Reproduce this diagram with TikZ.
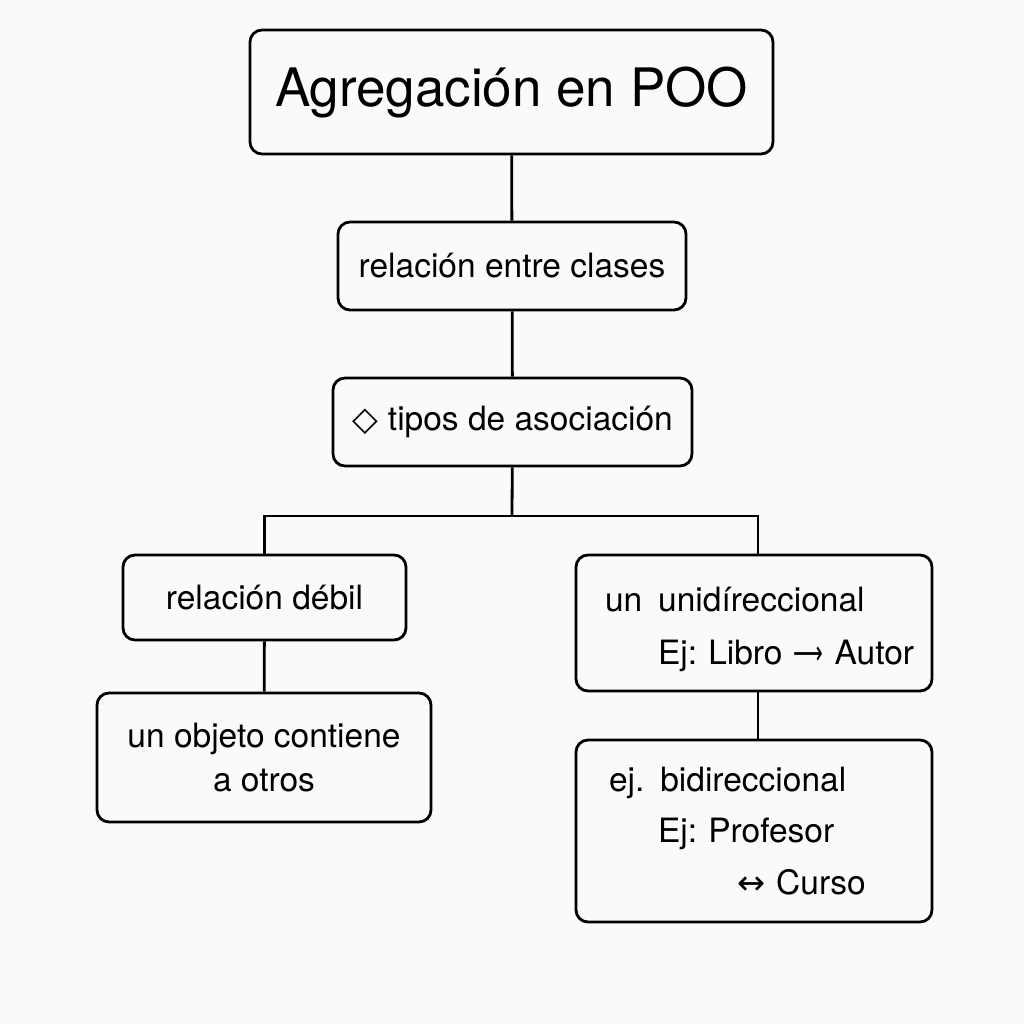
\documentclass[tikz,border=0pt]{standalone}
\usepackage{fontspec}
\setmainfont{TeX Gyre Heros}
\newfontfamily\symb{DejaVu Sans}
\usetikzlibrary{positioning}
\definecolor{bg}{RGB}{250,250,250}
\frenchspacing

\begin{document}
\begin{tikzpicture}[
    x=1pt, y=-1pt,
    every node/.style={font=\fontsize{33.5}{44}\selectfont},
    box/.style={
        rectangle,
        rounded corners=12pt,
        draw=black,
        fill=bg,
        align=center,
        inner sep=0pt,
        line width=2.8pt
    },
    link/.style={
        line width=2.8pt,
        color=black
    }
]
\fill[bg] (0,0) rectangle (1024,1024);

% ==================== TOP ====================
\node[box, minimum width=523pt, minimum height=124pt, font=\fontsize{53}{60}\selectfont] (title) at (511.5,92) {\raisebox{-5pt}{Agregación en POO}};
\node[box, minimum width=348pt, minimum height=88pt] (relacion) at (512,266) {relación entre clases};
\node[box, minimum width=359pt, minimum height=88pt] (tipos) at (512.5,422) {{\symb ◇}\hspace{10pt}tipos de asociación};

\draw[link] (title) -- (relacion);
\draw[link] (relacion) -- (tipos);

% ==================== LEFT BRANCH ====================
\node[box, minimum width=283pt, minimum height=85pt] (debil) at (264.5,597.5) {relación débil};
\node[box, minimum width=334pt, minimum height=129pt] (objeto) at (264,757.5) {un objeto contiene\\a otros};

% ==================== RIGHT BRANCH ====================
\node[box, minimum width=356pt, minimum height=136pt, align=left, text width=330pt,
      font=\fontsize{33.5}{53}\selectfont] (uni) at (754,623)
    {\rule{0pt}{38pt}\hspace*{16pt}un\hspace{16pt}unidíreccional\\\hspace*{69pt}\mbox{Ej: Libro \scalebox{0.62}[1]{\symb ⟶} Autor}};
\node[box, minimum width=356pt, minimum height=182pt, align=left, text width=290pt,
      font=\fontsize{33.5}{51.5}\selectfont] (bi) at (754,831)
    {ej.\hspace{16pt}bidireccional\\\hspace*{49pt}Ej: Profesor\\\hspace*{128pt}{\symb ↔} Curso};

% Connections
\coordinate (fork) at (512,516);
\draw[link] (tipos) -- (fork);
\draw[link] (fork) -| (debil.north);
\draw[link] (fork) -| ([xshift=4pt]uni.north);
\draw[link] (debil) -- (objeto);
\draw[link] ([xshift=4pt]uni.south) -- ([xshift=4pt]bi.north);

\end{tikzpicture}
\end{document}
